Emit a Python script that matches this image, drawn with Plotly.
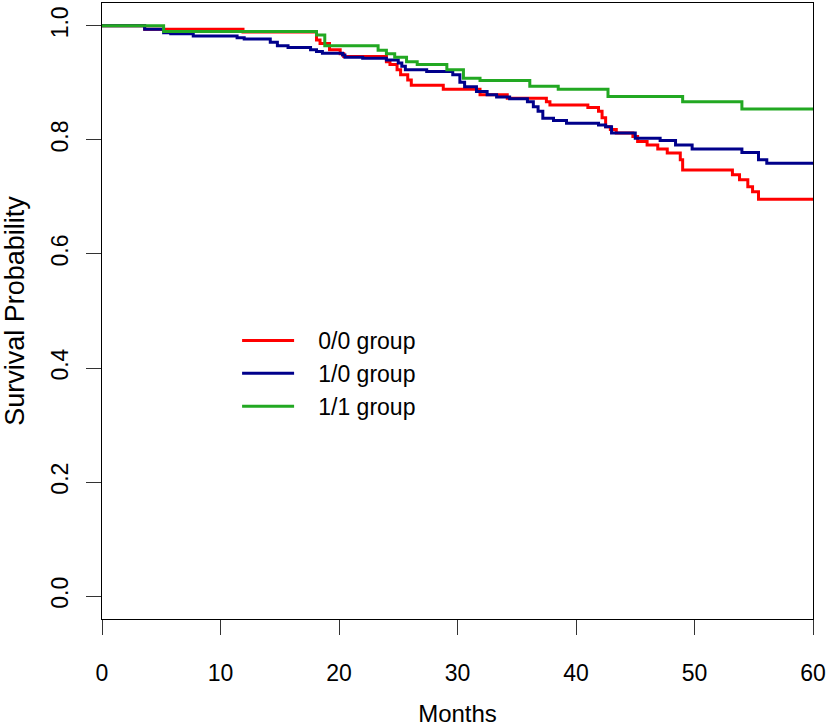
# Kaplan-Meier curves: survival probability by group over 60 months

import plotly.graph_objects as go

# group 0/0
meses_00 = [0, 3.6, 11.9, 18.1, 18.4, 19.2, 20.1, 20.4, 24.0, 24.3,
            24.9, 25.2, 25.8, 26.1, 28.8, 31.9, 34.2, 37.5, 37.8, 41.0,
            41.9, 42.2, 42.5, 42.9, 43.4, 44.8, 45.2, 46.0, 46.9, 47.7,
            48.8, 49.0, 53.2, 53.8, 54.5, 54.9, 55.4, 60]
surv_00 = [1.0, 0.994, 0.989, 0.975, 0.969, 0.958, 0.951, 0.946, 0.937, 0.932,
           0.923, 0.914, 0.905, 0.896, 0.889, 0.879, 0.873, 0.867, 0.861, 0.857,
           0.850, 0.839, 0.823, 0.818, 0.812, 0.806, 0.797, 0.791, 0.784, 0.777,
           0.765, 0.747, 0.739, 0.730, 0.718, 0.709, 0.696, 0.696]

# group 1/0
meses_10 = [0, 3.6, 5.2, 5.8, 7.7, 11.4, 12.0, 14.2, 14.8, 15.7,
            17.6, 18.1, 18.6, 20.3, 20.5, 22.0, 24.0, 25.0, 25.3, 25.6,
            27.4, 29.6, 30.2, 30.6, 31.6, 32.5, 33.3, 34.4, 35.9, 36.4,
            36.8, 37.2, 38.1, 39.2, 41.9, 42.5, 43.0, 45.0, 47.1, 48.4,
            49.8, 54.0, 55.4, 56.1, 60]
surv_10 = [1.0, 0.994, 0.988, 0.986, 0.982, 0.979, 0.977, 0.971, 0.965, 0.962,
           0.958, 0.955, 0.952, 0.949, 0.945, 0.943, 0.940, 0.935, 0.929, 0.923,
           0.920, 0.914, 0.901, 0.893, 0.885, 0.879, 0.875, 0.872, 0.867, 0.858,
           0.850, 0.838, 0.834, 0.829, 0.826, 0.823, 0.812, 0.803, 0.799, 0.791,
           0.784, 0.778, 0.765, 0.759, 0.759]

# group 1/1
meses_11 = [0, 5.2, 18.1, 18.8, 23.3, 24.0, 24.7, 25.7, 26.6, 29.1,
            30.5, 31.9, 36.1, 38.5, 42.7, 49.0, 54.0, 60]
surv_11 = [1.0, 0.990, 0.984, 0.965, 0.957, 0.951, 0.945, 0.937, 0.932, 0.923,
           0.908, 0.904, 0.894, 0.889, 0.876, 0.867, 0.854, 0.854]

x_ticks = [0, 10, 20, 30, 40, 50, 60]
y_ticks = [0.0, 0.2, 0.4, 0.6, 0.8, 1.0]

FONTE = "Liberation Sans, Arial, sans-serif"
ESPACO = "\u00a0" * 3  # gap between legend line and its text

grupos = [
    ("0/0 group", meses_00, surv_00, "#FF0000"),
    ("1/0 group", meses_10, surv_10, "#00008B"),
    ("1/1 group", meses_11, surv_11, "#22A822"),
]

fig = go.Figure()
for nome, x, y, cor in grupos:
    fig.add_trace(go.Scatter(
        x=x, y=y, name=ESPACO + nome, mode="lines",
        line=dict(color=cor, width=3, shape="hv"),
    ))

eixo = dict(
    showline=True, mirror=True, linecolor="black", linewidth=1,
    ticks="outside", ticklen=15, tickwidth=1, tickcolor="#333",
    showgrid=False, zeroline=False,
    tickfont=dict(size=23, color="black"),
)

fig.update_layout(
    width=829, height=727,
    paper_bgcolor="white", plot_bgcolor="white",
    font=dict(family=FONTE, size=24, color="black"),
    margin=dict(l=102, r=16, t=3, b=108),
    xaxis=dict(eixo, range=[0, 60], tickvals=x_ticks,
               title=dict(text="Months", standoff=22, font=dict(size=24)),
               ticklabelstandoff=18),
    yaxis=dict(eixo, range=[-0.04, 1.04], tickvals=y_ticks,
               tickformat=".1f", tickangle=-90,
               title=dict(text="Survival Probability", standoff=17,
                          font=dict(size=27)),
               ticklabelstandoff=9),
    legend=dict(
        x=0.19, y=0.487, xanchor="left", yanchor="top",
        bgcolor="rgba(0,0,0,0)", itemwidth=52,
        font=dict(size=23), tracegroupgap=0,
    ),
    showlegend=True,
)

# the page body has an 8px default margin; remove it so the figure sits at 0,0
fig.write_html("out.html", config={"displayModeBar": False},
               post_script="document.body.style.margin='0';")
